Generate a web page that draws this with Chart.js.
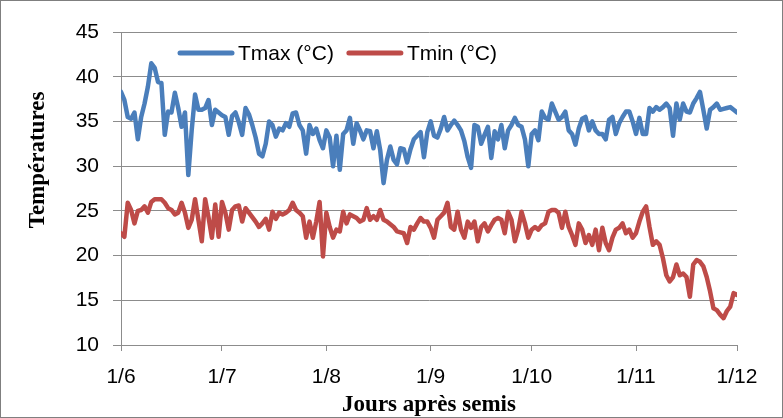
<!DOCTYPE html>
<html>
<head>
<meta charset="utf-8">
<script src="https://cdn.jsdelivr.net/npm/chart.js@4.4.0/dist/chart.umd.min.js"></script>
<style>
  html, body { margin: 0; padding: 0; background: #fff; }
  #wrap { position: relative; width: 783px; height: 418px; }
  #frame { position: absolute; left: 0; top: 0; width: 781px; height: 416px; border: 1px solid #7f7f7f; pointer-events: none; }
</style>
</head>
<body>
<div id="wrap">
  <canvas id="tempChart" width="783" height="418"></canvas>
  <div id="frame"></div>
</div>
<script>
// Daily temperatures from 1 June to 1 December (day offset = array index)
const tmax = [
  38.3, 37.4, 35.5, 35.3, 36.0, 33.0, 35.5, 37.0, 38.9, 41.5,
  41.0, 39.4, 39.3, 33.5, 36.1, 36.0, 38.2, 36.5, 34.4, 36.0,
  29.0, 34.0, 38.0, 36.3, 36.3, 36.5, 37.4, 34.6, 36.3, 36.0,
  35.7, 35.5, 33.5, 35.6, 36.0, 34.9, 33.5, 36.5, 35.8, 34.6,
  33.2, 31.4, 31.1, 32.5, 35.0, 34.6, 33.3, 34.2, 34.0, 34.8,
  34.4, 35.9, 36.0, 34.6, 34.0, 31.4, 34.6, 33.6, 34.2, 32.9,
  32.0, 34.0, 33.2, 30.0, 33.4, 29.6, 33.6, 34.0, 35.4, 32.5,
  34.8, 34.0, 33.0, 34.0, 33.9, 32.0, 33.9, 31.8, 28.1, 30.7,
  32.2, 30.7, 30.2, 32.0, 31.9, 30.4, 31.9, 33.0, 33.4, 33.8,
  31.0, 33.8, 35.0, 33.4, 33.2, 34.2, 35.5, 34.0, 34.6, 35.1,
  34.6, 34.0, 32.8, 31.0, 29.8, 34.6, 34.4, 32.5, 33.5, 34.4,
  30.9, 33.9, 33.0, 34.6, 32.0, 34.0, 34.6, 35.4, 34.6, 34.4,
  33.0, 30.0, 33.6, 34.0, 32.9, 36.1, 35.4, 35.2, 37.0, 36.1,
  35.2, 35.5, 36.1, 34.0, 33.6, 32.4, 34.2, 35.3, 35.5, 34.0,
  35.0, 34.0, 33.6, 33.6, 33.0, 35.2, 35.5, 33.6, 34.8, 35.5,
  36.1, 36.1, 35.0, 33.6, 35.4, 33.6, 33.6, 36.5, 36.1, 36.6,
  36.3, 36.6, 37.0, 36.5, 33.4, 37.0, 35.2, 37.0, 36.1, 36.0,
  37.0, 37.6, 38.3, 36.3, 34.2, 36.3, 36.6, 37.0, 36.3, 36.4,
  36.5, 36.6, 36.3, 36.0
];
const tmin = [
  22.5, 22.1, 25.9, 25.1, 23.6, 25.0, 25.1, 25.5, 24.8, 26.0,
  26.3, 26.3, 26.3, 25.9, 25.3, 25.1, 24.6, 24.8, 25.9, 24.8,
  23.1, 24.0, 26.3, 24.0, 21.6, 26.3, 24.3, 22.0, 25.7, 22.1,
  26.0, 24.8, 22.9, 25.1, 25.5, 25.6, 23.8, 25.3, 24.8, 24.3,
  23.8, 23.2, 23.6, 24.1, 22.9, 24.9, 24.1, 24.8, 24.6, 24.8,
  25.1, 25.9, 25.1, 24.8, 24.4, 22.0, 23.8, 22.0, 23.8, 26.0,
  19.9, 24.8, 23.2, 22.0, 22.9, 22.7, 24.9, 23.6, 24.6, 24.4,
  24.2, 23.8, 24.0, 25.3, 24.0, 24.4, 24.0, 25.1, 24.0, 23.8,
  23.5, 23.2, 22.7, 22.6, 22.5, 21.4, 23.2, 22.9, 23.6, 24.2,
  23.8, 23.8, 23.1, 22.0, 24.0, 24.4, 24.8, 25.9, 23.2, 22.9,
  24.9, 22.9, 22.0, 23.8, 23.1, 23.8, 21.6, 23.2, 23.6, 22.7,
  23.4, 24.0, 24.2, 24.0, 22.5, 24.9, 24.0, 21.6, 22.9, 24.9,
  23.6, 22.0, 22.9, 23.2, 22.9, 23.4, 23.6, 24.9, 25.1, 25.1,
  24.8, 23.1, 24.9, 23.2, 22.3, 21.2, 23.6, 22.9, 21.4, 22.3,
  21.2, 22.9, 20.6, 23.1, 21.4, 20.6, 22.0, 22.9, 23.1, 23.6,
  22.5, 22.9, 22.0, 22.5, 23.8, 24.9, 25.5, 23.2, 21.2, 21.6,
  21.2, 19.7, 17.8, 17.1, 17.6, 19.0, 17.8, 18.0, 17.6, 15.4,
  19.0, 19.5, 19.3, 18.8, 17.6, 16.0, 14.1, 13.9, 13.4, 13.0,
  13.8, 14.3, 15.8, 15.6
];

// Month tick positions (day offset) and their labels
const monthDays = [0, 30, 61, 92, 122, 153, 183];
const monthLabels = ['1/6', '1/7', '1/8', '1/9', '1/10', '1/11', '1/12'];

const seriesNames = ['Tmax (°C)', 'Tmin (°C)'];
const seriesColors = ['#4a7ebb', '#be4b48'];
const yTitle = 'Températures';
const xTitle = 'Jours après semis';

const tickFont = { family: 'Liberation Sans, Arial, sans-serif', size: 21 };
const titleFont = { family: 'Liberation Serif, Times New Roman, serif', size: 23, weight: 'bold' };
const gridColor = '#8c8c8c';

// Legend drawn inside the plot area, and the y title set a bit above centre, like the original
const extras = {
  id: 'extras',
  afterDraw(chart) {
    const ctx = chart.ctx;
    ctx.save();
    ctx.font = `${tickFont.size}px ${tickFont.family}`;
    ctx.textBaseline = 'middle';
    ctx.textAlign = 'left';
    const y = 53;
    let x = 180;
    seriesNames.forEach((name, i) => {
      ctx.strokeStyle = seriesColors[i];
      ctx.lineWidth = 5;
      ctx.lineCap = 'round';
      ctx.beginPath();
      ctx.moveTo(x, y);
      ctx.lineTo(x + 52, y);
      ctx.stroke();
      ctx.fillStyle = '#000';
      ctx.fillText(name, x + 58, y + 1);
      x += 58 + ctx.measureText(name).width + 15;
    });

    ctx.translate(38, 160);
    ctx.rotate(-Math.PI / 2);
    ctx.font = `bold ${titleFont.size}px ${titleFont.family}`;
    ctx.textAlign = 'center';
    ctx.fillText(yTitle, 0, 0);
    ctx.restore();
  }
};

const ctx = document.getElementById('tempChart').getContext('2d');

new Chart(ctx, {
  type: 'line',
  data: {
    datasets: [
      {
        label: seriesNames[0],
        data: tmax.map((v, i) => ({ x: i, y: v })),
        borderColor: seriesColors[0],
        borderWidth: 4.5,
        pointRadius: 0,
        borderJoinStyle: 'round',
        borderCapStyle: 'round',
        tension: 0
      },
      {
        label: seriesNames[1],
        data: tmin.map((v, i) => ({ x: i, y: v })),
        borderColor: seriesColors[1],
        borderWidth: 4.5,
        pointRadius: 0,
        borderJoinStyle: 'round',
        borderCapStyle: 'round',
        tension: 0
      }
    ]
  },
  options: {
    responsive: false,
    animation: false,
    layout: {
      padding: { left: 8, right: 46, top: 32, bottom: 0 }
    },
    plugins: {
      legend: { display: false },
      tooltip: { enabled: false }
    },
    scales: {
      x: {
        type: 'linear',
        min: 0,
        max: 183,
        afterBuildTicks: (scale) => {
          scale.ticks = monthDays.map(d => ({ value: d }));
        },
        afterFit: (scale) => { scale.height = 73; },
        grid: {
          drawOnChartArea: false,
          drawTicks: true,
          tickLength: 6,
          color: gridColor
        },
        border: { display: true, color: gridColor, width: 1 },
        ticks: {
          autoSkip: false,
          maxRotation: 0,
          padding: 14,
          color: '#000',
          font: tickFont,
          callback: (value) => monthLabels[monthDays.indexOf(value)]
        },
        title: {
          display: true,
          text: xTitle,
          color: '#000',
          font: titleFont,
          padding: { top: 0, bottom: -1 }
        }
      },
      y: {
        min: 10,
        max: 45,
        afterFit: (scale) => { scale.width = 113; },
        grid: {
          color: gridColor,
          lineWidth: 1,
          drawTicks: true,
          tickLength: 8
        },
        border: { display: true, color: gridColor, width: 1 },
        ticks: {
          stepSize: 5,
          padding: 14,
          color: '#000',
          font: tickFont
        },
        title: { display: false }
      }
    }
  },
  plugins: [extras]
});
</script>
</body>
</html>
